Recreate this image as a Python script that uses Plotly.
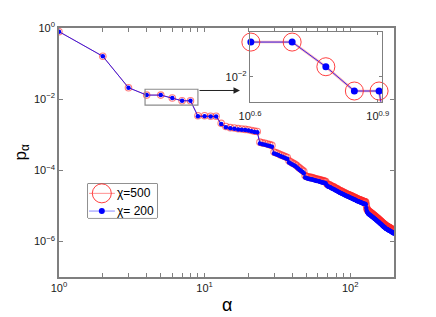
import plotly.graph_objects as go

# ---------------- data ----------------
alpha = list(range(1, 201))

p_chi500 = [
    0.79, 0.16, 0.021, 0.0130, 0.0130, 0.0108, 0.0090, 0.0090, 0.0034, 0.0034, 0.0033, 0.0033,
    2.09e-3, 1.70e-3, 1.58e-3, 1.55e-3, 1.48e-3, 1.45e-3, 1.41e-3, 1.38e-3, 1.32e-3, 1.26e-3, 1.23e-3,
    6.17e-4, 5.89e-4, 5.75e-4, 5.50e-4, 5.25e-4, 5.01e-4,
    3.24e-4, 3.09e-4, 2.95e-4, 2.75e-4, 2.63e-4, 2.51e-4, 2.40e-4, 2.29e-4,
    1.86e-4, 1.74e-4, 1.62e-4, 1.55e-4, 1.45e-4, 1.35e-4, 1.23e-4, 1.15e-4, 1.07e-4, 1.00e-4, 9.33e-5,
    7.08e-5, 6.76e-5, 6.61e-5, 6.46e-5, 6.31e-5, 6.31e-5, 6.17e-5, 6.03e-5, 5.89e-5, 5.75e-5, 5.62e-5,
    5.62e-5, 5.50e-5, 5.37e-5, 5.25e-5, 5.13e-5, 5.13e-5, 5.01e-5, 4.90e-5, 4.79e-5, 4.27e-5, 3.98e-5,
    3.98e-5, 3.89e-5, 3.80e-5, 3.63e-5, 3.55e-5, 3.47e-5, 3.39e-5, 3.31e-5, 3.16e-5, 3.09e-5,
    3.02e-5, 2.95e-5, 2.82e-5, 2.75e-5, 2.69e-5, 2.63e-5, 2.57e-5, 2.51e-5, 2.45e-5, 2.40e-5,
    2.34e-5, 2.29e-5, 2.24e-5, 2.19e-5, 2.14e-5, 2.09e-5, 2.09e-5, 2.04e-5, 2.00e-5, 1.95e-5,
    1.91e-5, 1.91e-5, 1.86e-5, 1.82e-5, 1.78e-5, 1.74e-5, 1.74e-5, 1.70e-5, 1.66e-5, 1.62e-5,
    1.58e-5, 1.58e-5, 1.55e-5, 1.51e-5, 1.51e-5, 1.48e-5, 1.45e-5, 1.45e-5, 1.41e-5, 1.41e-5,
    1.38e-5, 1.35e-5, 1.35e-5, 1.32e-5, 1.32e-5, 1.29e-5, 1.29e-5, 1.26e-5,
    1.05e-5, 8.71e-6, 7.94e-6, 7.59e-6, 7.24e-6, 7.08e-6, 6.92e-6,
    6.76e-6, 6.61e-6, 6.46e-6, 6.31e-6, 6.17e-6, 6.03e-6, 5.89e-6, 5.75e-6, 5.62e-6, 5.50e-6,
    5.37e-6, 5.25e-6, 5.13e-6, 5.01e-6, 4.90e-6, 4.79e-6, 4.68e-6, 4.57e-6, 4.47e-6, 4.37e-6,
    4.27e-6, 4.17e-6, 4.07e-6, 3.98e-6, 3.89e-6, 3.80e-6, 3.72e-6, 3.63e-6, 3.55e-6, 3.47e-6,
    3.39e-6, 3.31e-6, 3.24e-6, 3.16e-6, 3.09e-6, 3.02e-6, 3.02e-6, 2.95e-6, 2.88e-6, 2.82e-6,
    2.75e-6, 2.69e-6, 2.69e-6, 2.63e-6, 2.63e-6, 2.57e-6, 2.57e-6, 2.51e-6, 2.45e-6, 2.45e-6,
    2.40e-6, 2.40e-6, 2.34e-6, 2.34e-6, 2.29e-6, 2.24e-6, 2.24e-6, 2.19e-6, 2.19e-6, 2.14e-6,
    2.14e-6, 2.09e-6, 2.04e-6, 2.04e-6, 2.00e-6,
]

p_chi200 = [
    0.79, 0.16, 0.021, 0.0130, 0.0130, 0.0108, 0.0090, 0.0090, 0.0033, 0.0033, 0.00324, 0.00324,
    2.00e-3, 1.62e-3, 1.51e-3, 1.48e-3, 1.41e-3, 1.38e-3, 1.35e-3, 1.32e-3, 1.26e-3, 1.20e-3, 1.17e-3,
    5.62e-4, 5.37e-4, 5.25e-4, 5.01e-4, 4.79e-4, 4.57e-4,
    2.95e-4, 2.82e-4, 2.69e-4, 2.51e-4, 2.40e-4, 2.29e-4, 2.19e-4, 2.09e-4,
    1.66e-4, 1.55e-4, 1.45e-4, 1.38e-4, 1.29e-4, 1.20e-4, 1.10e-4, 1.02e-4, 9.55e-5, 8.91e-5, 8.32e-5,
    6.31e-5, 6.03e-5, 5.89e-5, 5.75e-5, 5.62e-5, 5.62e-5, 5.50e-5, 5.37e-5, 5.25e-5, 5.13e-5, 5.01e-5,
    5.01e-5, 4.90e-5, 4.79e-5, 4.68e-5, 4.57e-5, 4.57e-5, 4.47e-5, 4.37e-5, 4.27e-5, 3.80e-5, 3.55e-5,
    3.47e-5, 3.39e-5, 3.31e-5, 3.16e-5, 3.09e-5, 3.02e-5, 2.95e-5, 2.88e-5, 2.75e-5, 2.69e-5,
    2.63e-5, 2.57e-5, 2.45e-5, 2.40e-5, 2.34e-5, 2.29e-5, 2.24e-5, 2.19e-5, 2.14e-5, 2.09e-5,
    2.04e-5, 2.00e-5, 1.95e-5, 1.91e-5, 1.86e-5, 1.82e-5, 1.82e-5, 1.78e-5, 1.74e-5, 1.70e-5,
    1.66e-5, 1.66e-5, 1.62e-5, 1.58e-5, 1.55e-5, 1.51e-5, 1.51e-5, 1.48e-5, 1.45e-5, 1.41e-5,
    1.38e-5, 1.38e-5, 1.35e-5, 1.32e-5, 1.32e-5, 1.29e-5, 1.26e-5, 1.26e-5, 1.23e-5, 1.23e-5,
    1.20e-5, 1.17e-5, 1.17e-5, 1.15e-5, 1.15e-5, 1.12e-5, 1.12e-5, 1.10e-5,
    8.71e-6, 7.24e-6, 6.61e-6, 6.31e-6, 6.03e-6, 5.89e-6, 5.75e-6,
    5.62e-6, 5.50e-6, 5.37e-6, 5.25e-6, 5.13e-6, 5.01e-6, 4.90e-6, 4.79e-6, 4.68e-6, 4.57e-6,
    4.47e-6, 4.37e-6, 4.27e-6, 4.17e-6, 4.07e-6, 3.98e-6, 3.89e-6, 3.80e-6, 3.72e-6, 3.63e-6,
    3.55e-6, 3.47e-6, 3.39e-6, 3.31e-6, 3.24e-6, 3.16e-6, 3.09e-6, 3.02e-6, 2.95e-6, 2.88e-6,
    2.82e-6, 2.75e-6, 2.69e-6, 2.63e-6, 2.57e-6, 2.51e-6, 2.51e-6, 2.45e-6, 2.40e-6, 2.34e-6,
    2.29e-6, 2.24e-6, 2.24e-6, 2.19e-6, 2.19e-6, 2.14e-6, 2.14e-6, 2.09e-6, 2.04e-6, 2.04e-6,
    2.00e-6, 2.00e-6, 1.95e-6, 1.95e-6, 1.91e-6, 1.86e-6, 1.86e-6, 1.82e-6, 1.82e-6, 1.78e-6,
    1.78e-6, 1.74e-6, 1.70e-6, 1.70e-6, 1.66e-6,
]

series_names = ["χ=500", "χ= 200"]

x_tickvals = [1, 2, 3, 4, 5, 6, 7, 8, 9, 10, 20, 30, 40, 50, 60, 70, 80, 90, 100]
x_ticktext = ["10<sup>0</sup>"] + [""] * 8 + ["10<sup>1</sup>"] + [""] * 8 + ["10<sup>2</sup>"]
y_tickvals = [1, 1e-2, 1e-4, 1e-6]
y_ticktext = ["10<sup>0</sup>", "10<sup>−2</sup>", "10<sup>−4</sup>", "10<sup>−6</sup>"]

inset_xtickvals = [10 ** 0.6, 10 ** 0.9]
inset_xticktext = ["10<sup>0.6</sup>", "10<sup>0.9</sup>"]
inset_ytickvals = [1e-2]
inset_yticktext = ["10<sup>−2</sup>"]

# ---------------- styles ----------------
BLUE = "rgb(0,0,255)"
AXC = "#7f7f7f"
FONT = "Liberation Sans, Arial, Helvetica, sans-serif"

RED_MAIN = dict(line=dict(color="rgba(255,0,0,0.55)", width=1),
                marker=dict(symbol="circle-open", size=6.5, color="rgba(255,40,40,0.6)", line=dict(width=1.1)))
BLUE_MAIN = dict(line=dict(color=BLUE, width=0.8), marker=dict(symbol="circle", size=4.5, color=BLUE))

fig = go.Figure()

# main plot
fig.add_trace(go.Scatter(x=alpha, y=p_chi500, mode="lines+markers", name=series_names[0], **RED_MAIN))
fig.add_trace(go.Scatter(x=alpha, y=p_chi200, mode="lines+markers", name=series_names[1], **BLUE_MAIN))

# inset: lines (clipped) and markers (not clipped)
fig.add_trace(go.Scatter(
    x=alpha[2:9], y=p_chi500[2:9], mode="lines", xaxis="x2", yaxis="y2",
    line=dict(color="rgba(255,90,90,0.45)", width=2.5),
))
fig.add_trace(go.Scatter(
    x=alpha[2:9], y=p_chi200[2:9], mode="lines", xaxis="x2", yaxis="y2",
    line=dict(color=BLUE, width=0.8),
))
fig.add_trace(go.Scatter(
    x=alpha[3:8], y=p_chi500[3:8], mode="markers", xaxis="x2", yaxis="y2", cliponaxis=False,
    marker=dict(symbol="circle-open", size=18, color="rgba(255,30,30,0.85)", line=dict(width=1)),
))
fig.add_trace(go.Scatter(
    x=alpha[3:8], y=p_chi200[3:8], mode="markers", xaxis="x2", yaxis="y2", cliponaxis=False,
    marker=dict(symbol="circle", size=7, color=BLUE),
))

# legend key symbols, drawn in a hidden 0..1 axis placed over the legend box
fig.add_trace(go.Scatter(x=[0.015, 0.39], y=[0.714, 0.714], mode="lines", xaxis="x3", yaxis="y3",
                         line=dict(color="rgba(255,70,70,0.6)", width=1)))
fig.add_trace(go.Scatter(x=[0.2], y=[0.714], mode="markers", xaxis="x3", yaxis="y3", cliponaxis=False,
                         marker=dict(symbol="circle-open", size=19, color="rgba(255,30,30,0.85)",
                                     line=dict(width=1))))
fig.add_trace(go.Scatter(x=[0.015, 0.39], y=[0.2, 0.2], mode="lines", xaxis="x3", yaxis="y3",
                         line=dict(color="rgba(90,90,255,0.7)", width=1)))
fig.add_trace(go.Scatter(x=[0.2], y=[0.2], mode="markers", xaxis="x3", yaxis="y3", cliponaxis=False,
                         marker=dict(symbol="circle", size=6, color=BLUE)))

axis_common = dict(
    showline=True, linecolor=AXC, mirror="ticks", ticks="inside", tickcolor=AXC,
    showgrid=False, zeroline=False, tickfont=dict(family=FONT, size=11, color="#1a1a1a"),
)

LEG_X = [0.0866, 0.2925]
LEG_Y = [0.2372, 0.3755]

# the page adds an 8 px body margin, so the figure is sized/margined to compensate
fig.update_layout(
    width=428, height=309,
    margin=dict(l=51, r=42, t=16, b=40),
    paper_bgcolor="white", plot_bgcolor="white",
    showlegend=False,
    font=dict(family=FONT, size=11, color="black"),
    xaxis=dict(type="log", range=[0, 2.301], tickvals=x_tickvals, ticktext=x_ticktext,
               ticklen=4, linewidth=1.6, domain=[0, 1], **axis_common),
    yaxis=dict(type="log", range=[-7, 0], tickvals=y_tickvals, ticktext=y_ticktext,
               ticklen=4, linewidth=1.6, domain=[0, 1], **axis_common),
    xaxis2=dict(type="log", range=[0.6, 0.91], tickvals=inset_xtickvals, ticktext=inset_xticktext,
                ticklen=3, linewidth=1.4, domain=[0.5701, 0.9642], anchor="y2",
                ticklabelstandoff=4, **axis_common),
    yaxis2=dict(type="log", range=[-2.081, -1.853], tickvals=inset_ytickvals, ticktext=inset_yticktext,
                ticklen=3, linewidth=1.4, domain=[0.7036, 0.9842], anchor="x2", **axis_common),
    xaxis3=dict(domain=LEG_X, range=[0, 1], visible=False, anchor="y3", fixedrange=True),
    yaxis3=dict(domain=LEG_Y, range=[0, 1], visible=False, anchor="x3", fixedrange=True),
    shapes=[
        dict(type="rect", xref="x", yref="y", x0=3.9, x1=9.0, y0=0.0068, y1=0.019,
             line=dict(color="#8c8c8c", width=1.2)),
        dict(type="rect", xref="paper", yref="paper", x0=LEG_X[0], x1=LEG_X[1], y0=LEG_Y[0], y1=LEG_Y[1],
             line=dict(color="#222", width=1), fillcolor="white", layer="below"),
    ],
    annotations=[
        dict(xref="paper", yref="paper", x=0.5403, y=0.749, ax=-42, ay=0,
             axref="pixel", ayref="pixel", text="", showarrow=True,
             arrowhead=2, arrowsize=1.3, arrowwidth=1, arrowcolor="#222"),
        dict(xref="paper", yref="paper", x=0.5, y=-0.111, text="α", showarrow=False,
             font=dict(family=FONT, size=18, color="black"), xanchor="center", yanchor="middle"),
        dict(xref="paper", yref="paper", x=-51 / 335, y=0.5, text="p<sub>α</sub>", showarrow=False,
             textangle=-90, font=dict(family=FONT, size=17, color="black"),
             xanchor="left", yanchor="middle"),
        dict(xref="paper", yref="paper", x=0.168, y=0.336, text=series_names[0], showarrow=False,
             font=dict(family=FONT, size=12, color="black"), xanchor="left", yanchor="middle"),
        dict(xref="paper", yref="paper", x=0.168, y=0.265, text=series_names[1], showarrow=False,
             font=dict(family=FONT, size=12, color="black"), xanchor="left", yanchor="middle"),
    ],
)

fig.write_html("out.html")
